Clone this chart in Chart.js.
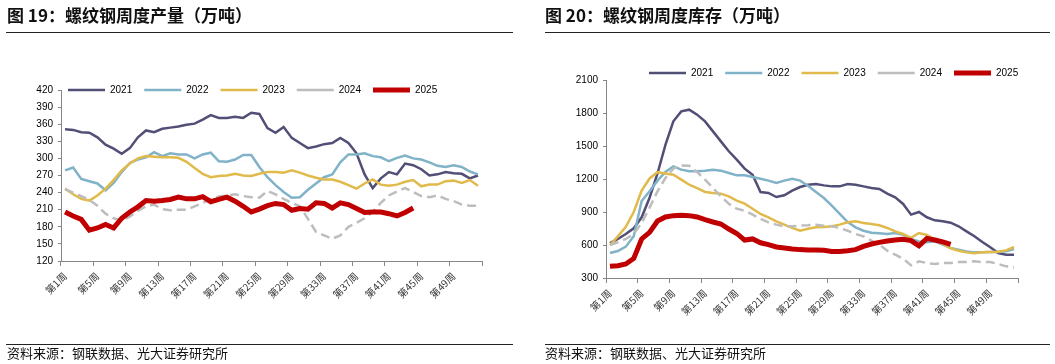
<!DOCTYPE html>
<html>
<head>
<meta charset="utf-8">
<script src="https://cdn.jsdelivr.net/npm/chart.js@4.4.1/dist/chart.umd.min.js"></script>
<style>
  html, body { margin: 0; padding: 0; background: #fff; }
  #page { position: relative; width: 1055px; height: 364px; overflow: hidden; font-family: "Noto Sans CJK SC", sans-serif; }
  canvas { position: absolute; top: 0; }
  .title { position: absolute; top: 5px; font-size: 17px; font-weight: bold; line-height: 20px; color: #111; white-space: nowrap; }
  .rule { position: absolute; height: 1px; background: #222; }
  .source { position: absolute; top: 345px; font-size: 13px; line-height: 16px; color: #111; white-space: nowrap; }
</style>
</head>
<body>
<div id="page">
  <canvas id="prodChart" width="530" height="364" style="left:0"></canvas>
  <canvas id="invChart" width="515" height="364" style="left:540px"></canvas>

  <div class="title" style="left:7px">图 19：螺纹钢周度产量（万吨）</div>
  <div class="rule" style="left:6px;top:32px;width:507px"></div>
  <div class="rule" style="left:6px;top:344px;width:507px"></div>
  <div class="source" style="left:7px">资料来源：钢联数据、光大证券研究所</div>

  <div class="title" style="left:545px">图 20：螺纹钢周度库存（万吨）</div>
  <div class="rule" style="left:545px;top:32px;width:505px"></div>
  <div class="rule" style="left:545px;top:344px;width:505px"></div>
  <div class="source" style="left:545px">资料来源：钢联数据、光大证券研究所</div>
</div>

<script>
  // ------------------------------------------------------
  // @Data
  // ------------------------------------------------------

  const weeks = Array.from({ length: 52 }, (_, i) => '第' + (i + 1) + '周');
  const years = ['2021', '2022', '2023', '2024', '2025'];

  // weekly output (10k t)
  const prod2021 = [351, 350, 346, 345, 337, 324, 317, 308, 318, 337, 349, 346, 352, 354, 356, 359, 361, 368, 376, 371,
    371, 373, 371, 380, 378, 353, 345, 355, 336, 327, 318, 321, 325, 327, 336, 327, 309, 272, 248, 265,
    276, 272, 291, 288, 281, 270, 272, 276, 274, 273, 265, 270];
  const prod2022 = [279, 284, 264, 260, 256, 244, 257, 276, 292, 298, 302, 311, 304, 309, 307, 307, 300, 307, 310, 295,
    294, 298, 306, 306, 285, 267, 253, 241, 231, 232, 245, 256, 267, 272, 293, 307, 307, 309, 304, 302,
    295, 301, 305, 300, 298, 293, 287, 285, 288, 285, 277, 272];
  const prod2023 = [247, 237, 229, 226, 235, 247, 262, 279, 291, 300, 304, 303, 302, 302, 301, 294, 283, 273, 267, 269,
    270, 273, 270, 269, 273, 276, 276, 275, 279, 275, 270, 266, 263, 263, 259, 253, 247, 256, 263, 254,
    252, 254, 259, 262, 251, 254, 254, 260, 261, 257, 262, 252];
  const prod2024 = [246, 240, 234, 227, 217, 203, 195, 191, 198, 208, 216, 219, 211, 209, 210, 210, 216, 222, 228, 233,
    235, 237, 234, 232, 231, 243, 237, 229, 222, 216, 194, 171, 165, 159, 165, 180, 187, 195, 206, 222,
    235, 242, 248, 241, 234, 232, 235, 229, 225, 219, 217, 217];
  const prod2025 = [206, 199, 193, 174, 178, 184, 178, 195, 206, 215, 226, 225, 226, 228, 232, 229, 229, 233, 224, 228,
    232, 225, 216, 206, 211, 217, 221, 219, 209, 212, 211, 222, 221, 213, 222, 219, 212, 205, 206, 206,
    203, 199, 205, 213];
  const prodTicks = [120, 150, 180, 210, 240, 270, 300, 330, 360, 390, 420];

  // weekly inventory (10k t)
  const inv2021 = [618, 655, 700, 752, 852, 1030, 1250, 1510, 1725, 1815, 1830, 1785, 1724, 1633, 1542, 1452, 1376, 1294, 1239, 1082,
    1073, 1036, 1052, 1094, 1127, 1148, 1155, 1142, 1133, 1133, 1155, 1148, 1133, 1118, 1109, 1067, 1033, 973, 876, 900,
    852, 824, 815, 803, 770, 724, 679, 627, 579, 527, 512, 512];
  const inv2022 = [527, 545, 585, 680, 1000, 1088, 1185, 1264, 1315, 1285, 1270, 1270, 1276, 1285, 1276, 1255, 1233, 1233, 1218, 1203,
    1185, 1164, 1185, 1203, 1185, 1139, 1082, 1027, 958, 882, 809, 761, 730, 712, 706, 700, 709, 694, 655, 633,
    624, 633, 603, 573, 558, 542, 533, 533, 536, 536, 542, 564];
  const inv2023 = [600, 679, 765, 900, 1095, 1205, 1262, 1250, 1239, 1194, 1148, 1118, 1082, 1073, 1067, 1042, 1003, 976, 930, 882,
    852, 815, 785, 755, 730, 748, 761, 764, 770, 785, 806, 815, 800, 790, 780, 755, 724, 700, 665, 709,
    691, 648, 609, 570, 548, 533, 524, 533, 536, 539, 551, 582];
  const inv2024 = [600, 625, 655, 700, 800, 940, 1088, 1209, 1294, 1324, 1320, 1264, 1194, 1118, 1042, 975, 930, 912, 876, 839,
    806, 785, 770, 770, 776, 779, 785, 776, 770, 755, 730, 700, 679, 639, 603, 548, 512, 476, 415, 452,
    436, 427, 436, 436, 445, 445, 452, 445, 445, 427, 406, 397];
  const inv2025 = [406, 412, 427, 478, 655, 715, 818, 855, 867, 870, 867, 855, 830, 809, 791, 745, 705, 645, 655, 620,
    603, 582, 573, 564, 558, 555, 555, 552, 542, 542, 548, 558, 588, 609, 624, 636, 645, 652, 640, 592,
    660, 645, 628, 605];
  const invTicks = [300, 600, 900, 1200, 1500, 1800, 2100];

  // ------------------------------------------------------
  // @Styles
  // ------------------------------------------------------

  const LINE_STYLE = {
    '2021': { color: '#524f77', width: 2.5, dash: [] },
    '2022': { color: '#80b2c8', width: 2.5, dash: [] },
    '2023': { color: '#e1ba4c', width: 2.5, dash: [] },
    '2024': { color: '#bdbdbd', width: 2.5, dash: [9, 5] },
    '2025': { color: '#c00000', width: 5, dash: [] },
  };
  const AXIS_COLOR = '#868686';
  const LATIN = '"Liberation Sans", Arial, sans-serif';
  const CJK = '"Noto Sans CJK SC", sans-serif';

  // put the legend where the original has it (over the top of the plot)
  const legendPos = {
    id: 'legendPos',
    afterLayout(chart, args, opts) {
      const lg = chart.legend;
      if (!lg) return;
      const pad = lg.options.labels.padding;
      const fs = lg.options.labels.font.size;
      lg.left = opts.x - pad;
      lg.right = lg.left + lg.width;
      lg.top = opts.y - pad - fs / 2;
      lg.bottom = lg.top + lg.height;
    },
  };

  function buildChart(id, seriesList, ticks, box) {
    const ctx = document.getElementById(id).getContext('2d');

    const chart = new Chart(ctx, {
      type: 'line',
      data: {
        labels: weeks,
        datasets: seriesList.map((values, i) => {
          const st = LINE_STYLE[years[i]];
          return {
            label           : years[i],
            data            : values,
            borderColor     : st.color,
            backgroundColor : st.color,
            borderWidth     : st.width,
            borderDash      : st.dash,
            pointRadius     : 0,
            tension         : 0,
            fill            : false,
            order           : seriesList.length - 1 - i,
          };
        }),
      },
      plugins: [legendPos],
      options: {
        responsive: false,
        animation: false,
        layout: { padding: Object.assign({}, box.padding) },
        plugins: {
          tooltip: { enabled: false },
          legendPos: box.legend,
          legend: {
            position: 'top',
            align: 'start',
            labels: {
              usePointStyle   : true,
              pointStyle      : 'line',
              pointStyleWidth : 37,
              padding         : 12,
              color           : '#000',
              font            : { family: LATIN, size: 10 },
              sort            : (a, b) => a.datasetIndex - b.datasetIndex,
            },
          },
        },
        scales: {
          x: {
            type: 'category',
            offset: true,
            grid: {
              offset: true,
              drawOnChartArea: false,
              tickLength: 5,
              tickColor: (c) => (c.index === undefined || c.index % 4 === 0) ? AXIS_COLOR : 'rgba(0,0,0,0)',
            },
            border: { color: AXIS_COLOR },
            ticks: {
              autoSkip: false,
              minRotation: 45,
              maxRotation: 45,
              padding: 4,
              color: '#333',
              font: { family: CJK, size: 10 },
              callback: (v, i) => (i % 4 === 0 ? weeks[i] : ''),
            },
            afterFit: (s) => { s.height = 50; },
          },
          y: {
            min: ticks[0],
            max: ticks[ticks.length - 1],
            grid: { drawOnChartArea: false, tickLength: 3, color: AXIS_COLOR },
            border: { color: AXIS_COLOR },
            ticks: {
              stepSize: ticks[1] - ticks[0],
              padding: 5,
              color: '#000',
              font: { family: LATIN, size: 10 },
              callback: (v) => String(v),
            },
            afterFit: (s) => { s.width = box.axisWidth; },
          },
        },
      },
    });

    // the top legend takes room from the layout; give that room back so the plot keeps its place
    const lh = chart.legend.height;
    chart.options.layout.padding = Object.assign({}, box.padding, { top: box.padding.top - lh });
    chart.update();
    return chart;
  }

  // ------------------------------------------------------
  // @Charts
  // ------------------------------------------------------

  buildChart('prodChart', [prod2021, prod2022, prod2023, prod2024, prod2025], prodTicks, {
    padding: { top: 90, right: 48, bottom: 53, left: 0 },
    axisWidth: 61,
    legend: { x: 68, y: 90 },
  });

  buildChart('invChart', [inv2021, inv2022, inv2023, inv2024, inv2025], invTicks, {
    padding: { top: 80, right: 37, bottom: 36, left: 0 },
    axisWidth: 66,
    legend: { x: 109, y: 73 },
  });
</script>
</body>
</html>
